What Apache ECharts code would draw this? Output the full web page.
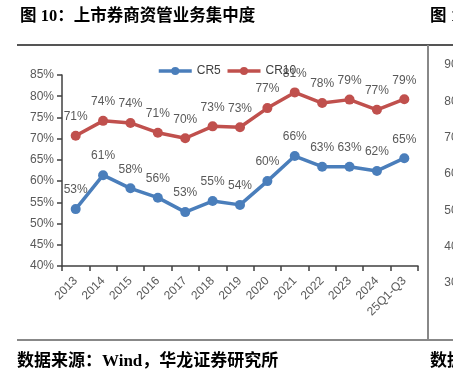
<!DOCTYPE html>
<html>
<head>
<meta charset="utf-8">
<script src="https://cdn.jsdelivr.net/npm/echarts@6/dist/echarts.min.js"></script>
<style>
html,body{margin:0;padding:0;background:#fff;}
#c{width:453px;height:375px;}
</style>
</head>
<body>
<div id="c"></div>
<script>
const categories = ['2013','2014','2015','2016','2017','2018','2019','2020','2021','2022','2023','2024','25Q1-Q3'];
const cr5 = [53.4, 61.4, 58.3, 56.1, 52.7, 55.3, 54.4, 60.0, 65.9, 63.4, 63.4, 62.4, 65.4];
const cr10 = [70.7, 74.2, 73.7, 71.4, 70.1, 72.9, 72.7, 77.2, 80.9, 78.4, 79.2, 76.8, 79.3];
const seriesNames = ['CR5', 'CR10'];
const yTicks = {min: 40, max: 85, interval: 5};
const rightPanelTicks = {min: 30, max: 90, interval: 10};
const titleText = '图 10：上市券商资管业务集中度';
const sourceText = '数据来源：Wind，华龙证券研究所';

const chart = echarts.init(document.getElementById('c'), null, {renderer: 'canvas'});
const labelFont = 'Liberation Sans, Arial, sans-serif';
const cjkFont = 'Liberation Serif, Noto Sans CJK SC, serif';

function mkSeries(name, data, color) {
  return {
    name: name, type: 'line', data: data, xAxisIndex: 0, yAxisIndex: 0,
    symbol: 'circle', symbolSize: 10,
    itemStyle: {color: color},
    lineStyle: {color: color, width: 3.5},
    label: {show: true, position: 'top', distance: 8, color: '#595959', fontSize: 12, fontFamily: labelFont,
      formatter: p => Math.round(p.value) + '%'},
    emphasis: {disabled: true},
    animation: false
  };
}

chart.setOption({
  animation: false,
  textStyle: {fontFamily: labelFont},
  legend: {
    data: seriesNames, left: 152, top: 60, itemWidth: 33, itemHeight: 10, itemGap: 5,
    lineStyle: {width: 3.5},
    textStyle: {fontSize: 12, color: '#404040', fontFamily: labelFont}
  },
  grid: [
    {left: 62, top: 75, width: 356, height: 191, containLabel: false},
    {left: 428, top: 65, width: 5, height: 218, containLabel: false}
  ],
  xAxis: [
    {type: 'category', data: categories, gridIndex: 0, boundaryGap: true,
      axisLine: {lineStyle: {color: '#404040', width: 1.5}},
      axisTick: {show: true, length: 5, interval: 0, lineStyle: {color: '#404040', width: 1.5}},
      axisLabel: {rotate: 45, interval: 0, fontSize: 12, color: '#595959', margin: 13, fontFamily: labelFont}},
    {type: 'value', gridIndex: 1, show: false}
  ],
  yAxis: [
    {type: 'value', gridIndex: 0, min: yTicks.min, max: yTicks.max, interval: yTicks.interval,
      axisLine: {show: true, lineStyle: {color: '#404040', width: 1.5}},
      axisTick: {show: true, length: 5, lineStyle: {color: '#404040', width: 1.5}},
      splitLine: {show: false},
      axisLabel: {formatter: '{value}%', fontSize: 12, color: '#595959', margin: 8, fontFamily: labelFont}},
    {type: 'value', gridIndex: 1, position: 'right', min: rightPanelTicks.min, max: rightPanelTicks.max, interval: rightPanelTicks.interval,
      axisLine: {show: false}, axisTick: {show: false}, splitLine: {show: false},
      axisLabel: {fontSize: 12, color: '#595959', margin: 15, fontFamily: labelFont}}
  ],
  series: [
    mkSeries(seriesNames[0], cr5, '#4A7EBB'),
    mkSeries(seriesNames[1], cr10, '#C0504D')
  ],
  graphic: [
    {type: 'text', left: 20, top: 8, style: {text: titleText, font: 'bold 16.5px ' + cjkFont, fill: '#000'}},
    {type: 'text', left: 430, top: 8, style: {text: '图 1', font: 'bold 16.5px ' + cjkFont, fill: '#000'}},
    {type: 'line', shape: {x1: 17, y1: 45, x2: 453, y2: 45}, style: {stroke: '#555', lineWidth: 2}},
    {type: 'line', shape: {x1: 428, y1: 45, x2: 428, y2: 340}, style: {stroke: '#888', lineWidth: 2}},
    {type: 'line', shape: {x1: 17, y1: 340, x2: 453, y2: 340}, style: {stroke: '#888', lineWidth: 2}},
    {type: 'text', left: 17, top: 353, style: {text: sourceText, font: 'bold 17px ' + cjkFont, fill: '#000'}},
    {type: 'text', left: 430, top: 353, style: {text: '数据', font: 'bold 17px ' + cjkFont, fill: '#000'}}
  ]
});
</script>
</body>
</html>
